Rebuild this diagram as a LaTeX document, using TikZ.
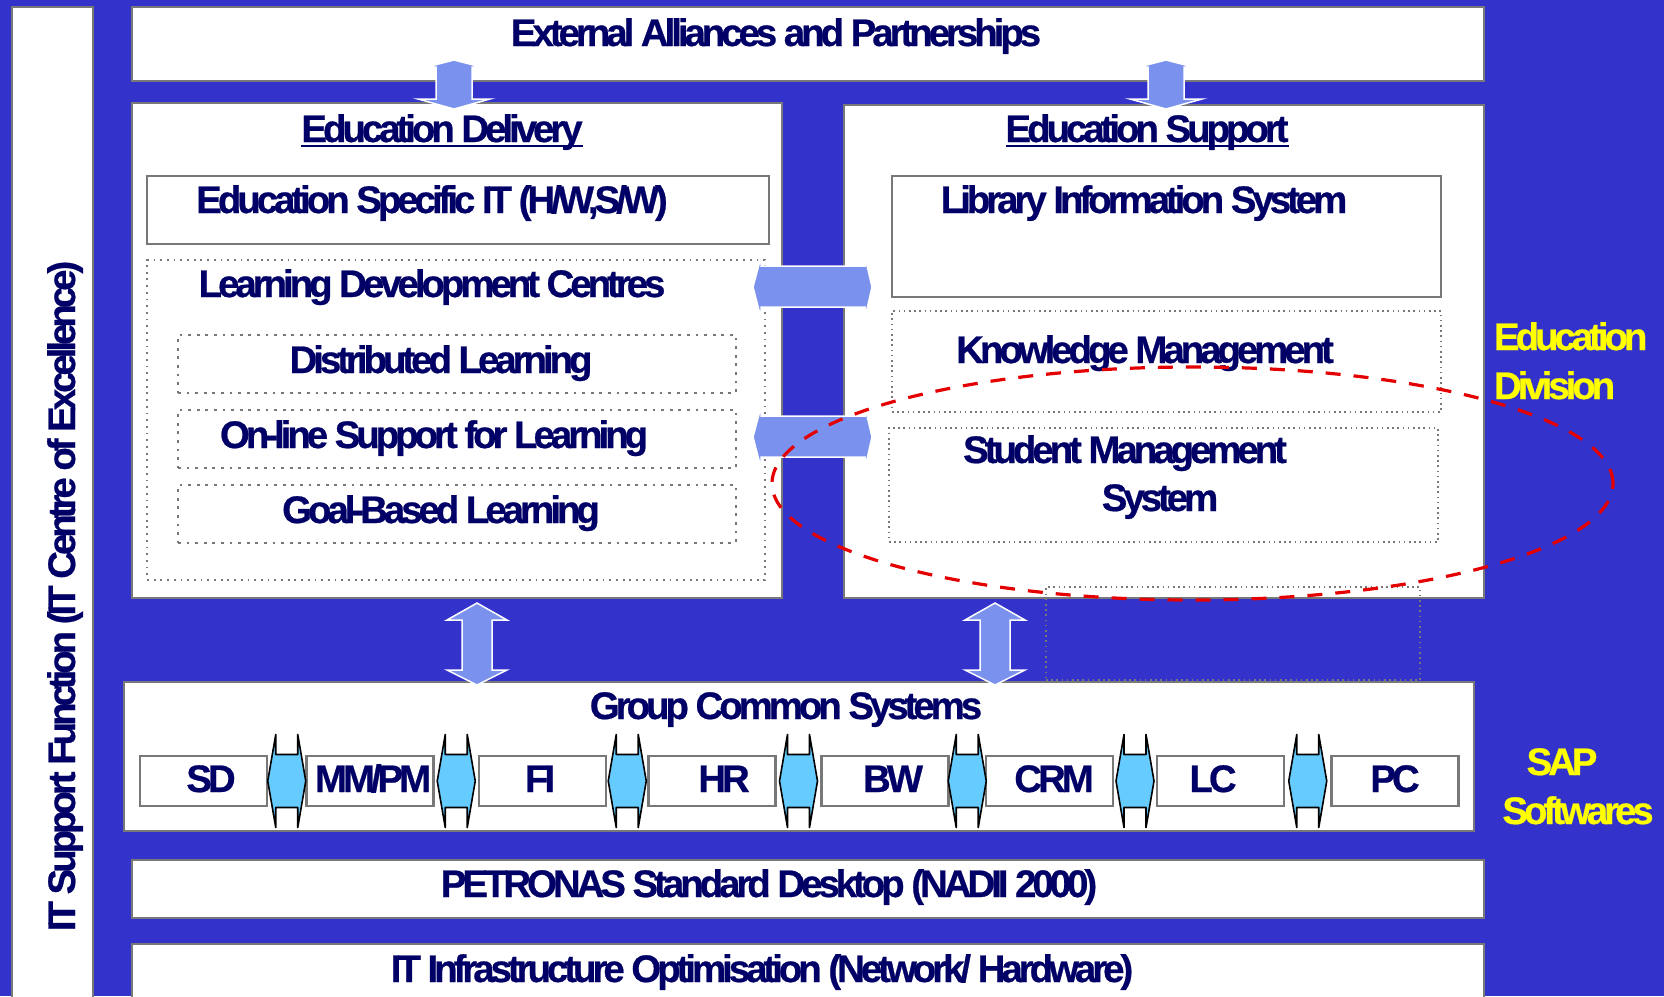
\documentclass[tikz,border=0pt]{standalone}
\usepackage{fontspec}
\setmainfont{Liberation Sans}[LetterSpace=-10.5, BoldFeatures={FakeBold=0.6}]
\usetikzlibrary{calc}
\definecolor{bg}{RGB}{51,51,204}
\definecolor{navy}{RGB}{0,0,102}
\definecolor{lblue}{RGB}{122,145,238}
\definecolor{cyanf}{RGB}{102,204,255}
\definecolor{bord}{RGB}{120,120,120}
\definecolor{dotc}{RGB}{120,120,120}
\definecolor{yel}{RGB}{255,255,0}
\definecolor{redd}{RGB}{228,0,0}
\begin{document}
\begin{tikzpicture}[x=1pt,y=-1pt,
  panel/.style={draw=bord, line width=2pt, fill=white, inner sep=0pt, outer sep=0pt, anchor=north west},
  solidbox/.style={draw=bord, line width=2.7pt, fill=white, inner sep=0pt, outer sep=0pt, anchor=north west},
  dotsmall/.style={draw=dotc, line width=1.8pt, dash pattern=on 1.8pt off 4.9pt, inner sep=0pt, outer sep=0pt, anchor=north west},
  dotbig/.style={draw=dotc, line width=2.8pt, dash pattern=on 2.8pt off 5.8pt, inner sep=0pt, outer sep=0pt, anchor=north west},
  dotfine/.style={draw=dotc, line width=1.6pt, dash pattern=on 1.6pt off 3.6pt, inner sep=0pt, outer sep=0pt, anchor=north west},
  txt/.style={font=\bfseries\fontsize{38.4}{42}\selectfont, text=navy, inner sep=0pt, outer sep=0pt, anchor=base},
  ytxt/.style={txt, text=yel},
  sapbox/.style={draw=bord, line width=2.8pt, fill=white, minimum width=127pt, minimum height=50pt, inner sep=0pt, outer sep=0pt},
  bigarrow/.style={fill=lblue, draw=white, line width=1.5pt, line join=miter},
  vtarrow/.pic={\draw[bigarrow] (0,60) -- (27,67) -- (18,67) -- (18,99) -- (36,99) -- (0,109) -- (-36,99) -- (-18,99) -- (-18,67) -- (-27,67) -- cycle;},
  hzarrow/.pic={\draw[bigarrow] (753,0) -- (761,-30) -- (761,-21) -- (865,-21) -- (865,-30) -- (872,0) -- (865,31) -- (865,20) -- (761,20) -- (761,31) -- cycle;},
  vbarrow/.pic={\draw[bigarrow] (0,603) -- (30,620) -- (15,620) -- (15,670) -- (30,670) -- (0,685) -- (-30,670) -- (-15,670) -- (-15,620) -- (-30,620) -- cycle;},
  sapconn/.pic={\draw[fill=cyanf, draw=black, line width=1.6pt, line join=round] (-19,0) -- (-11,-46.5) -- (-11,-26.5) -- (11,-26.5) -- (11,-46.5) -- (19,0) -- (11,46.5) -- (11,26.5) -- (-11,26.5) -- (-11,46.5) -- cycle;}
]
\useasboundingbox (0,0) rectangle (1664,996);
\fill[bg] (0,0) rectangle (1664,996);
\begin{scope}
\clip (0,0) rectangle (1664,996);

% main panels
\node[panel, minimum width=81pt, minimum height=1003pt] (col) at (12,7) {};
\node[panel, minimum width=1352pt, minimum height=74pt] (top) at (132,7) {};
\node[panel, minimum width=650pt, minimum height=495pt] (del) at (132,103) {};
\node[panel, minimum width=640pt, minimum height=493pt] (sup) at (844,105) {};
\node[panel, minimum width=1350pt, minimum height=149pt] (gcs) at (124,682) {};
\node[panel, minimum width=1352pt, minimum height=58pt] (pet) at (132,860) {};
\node[panel, minimum width=1352pt, minimum height=66pt] (iti) at (132,944) {};

% inner boxes of Education Delivery
\node[solidbox, minimum width=622pt, minimum height=68pt] (esit) at (147,176) {};
\node[dotsmall, minimum width=618pt, minimum height=320pt] (ldc) at (147,260) {};
\node[dotbig, minimum width=558pt, minimum height=58pt] (dl) at (178,335) {};
\node[dotbig, minimum width=558pt, minimum height=58pt] (ols) at (178,410) {};
\node[dotbig, minimum width=558pt, minimum height=58pt] (gbl) at (178,485) {};

% inner boxes of Education Support
\node[panel, minimum width=549pt, minimum height=121pt] (lis) at (892,176) {};
\node[dotfine, minimum width=549pt, minimum height=101pt] (km) at (892,311) {};
\node[dotfine, minimum width=549pt, minimum height=114pt] (sms) at (889,428) {};
\node[dotfine, minimum width=374pt, minimum height=93pt] (extra) at (1046,587) {};

% SAP boxes
\node[sapbox] (sd) at (203.5,781) {};
\node[sapbox] (mm) at (370,781) {};
\node[sapbox] (fi) at (542.5,781) {};
\node[sapbox] (hr) at (712,781) {};
\node[sapbox] (bw) at (885,781) {};
\node[sapbox] (crm) at (1049.5,781) {};
\node[sapbox] (lc) at (1220.5,781) {};
\node[sapbox] (pc) at (1395,781) {};
\node[txt] (t-sd) at (211,792) {SD};
\node[txt] (t-mm) at (373,792) {MM/PM};
\node[txt] (t-fi) at (540,792) {FI};
\node[txt] (t-hr) at (724,792) {HR};
\node[txt] (t-bw) at (893,792) {BW};
\node[txt] (t-crm) at (1054,792) {CRM};
\node[txt] (t-lc) at (1213,792) {LC};
\node[txt] (t-pc) at (1395,792) {PC};

% SAP connectors
\pic at ($(sd.east)!.5!(mm.west)$) {sapconn};
\pic at ($(mm.east)!.5!(fi.west)$) {sapconn};
\pic at ($(fi.east)!.5!(hr.west)$) {sapconn};
\pic at ($(hr.east)!.5!(bw.west)$) {sapconn};
\pic at ($(bw.east)!.5!(crm.west)$) {sapconn};
\pic at ($(crm.east)!.5!(lc.west)$) {sapconn};
\pic at ($(lc.east)!.5!(pc.west)$) {sapconn};

% big arrows
\coordinate (va1) at (454,0);
\coordinate (va2) at (1166,0);
\coordinate (ha1) at (0,287);
\coordinate (ha2) at (0,437);
\coordinate (vb1) at (477,0);
\coordinate (vb2) at (995,0);
\pic at (va1) {vtarrow};
\pic at (va2) {vtarrow};
\pic at (ha1) {hzarrow};
\pic at (ha2) {hzarrow};
\pic at (vb1) {vbarrow};
\pic at (vb2) {vbarrow};

% texts
\node[txt] (t-top) at (776,46) {External Alliances and Partnerships};
\node[txt] (t-del) at (442,142) {Education Delivery};
\draw[navy, line width=2pt] ([yshift=-3.5pt]t-del.base west) -- ([yshift=-3.5pt]t-del.base east);
\node[txt] (t-sup) at (1147,142) {Education Support};
\draw[navy, line width=2pt] ([yshift=-3.5pt]t-sup.base west) -- ([yshift=-3.5pt]t-sup.base east);
\node[txt] (t-esit) at (432,213) {Education Specific IT (H/W,S/W)};
\node[txt] (t-ldc) at (432,297) {Learning Development Centres};
\node[txt] (t-dl) at (441,373) {Distributed Learning};
\node[txt] (t-ols) at (434,448) {On-line Support for Learning};
\node[txt] (t-gbl) at (441,523) {Goal-Based Learning};
\node[txt] (t-lis) at (1144,213) {Library Information System};
\node[txt] (t-km) at (1145,363) {Knowledge Management};
\node[txt] (t-sms1) at (1125,463) {Student Management};
\node[txt] (t-sms2) at (1160,511) {System};
\node[txt] (t-gcs) at (786,719) {Group Common Systems};
\node[txt] (t-pet) at (769,897) {PETRONAS Standard Desktop (NADII 2000)};
\node[txt] (t-iti) at (762,982) {IT Infrastructure Optimisation (Network/ Hardware)};
\node[txt, rotate=90, font=\bfseries\fontsize{38.4}{42}\selectfont] (t-col) at (75,596) {IT Support Function (IT Centre of Excellence)};

\node[ytxt, anchor=base west] (t-ed1) at (1494,350) {Education};
\node[ytxt, anchor=base west] (t-ed2) at (1494,399) {Division};
\node[ytxt] (t-sap1) at (1562,775) {SAP};
\node[ytxt] (t-sap2) at (1578,824) {Softwares};

% red dashed ellipse
\draw[redd, line width=3.2pt, dash pattern=on 15pt off 13pt] (1192.5,483.5) ellipse [x radius=420.5pt, y radius=116.5pt];
\end{scope}
\end{tikzpicture}
\end{document}
